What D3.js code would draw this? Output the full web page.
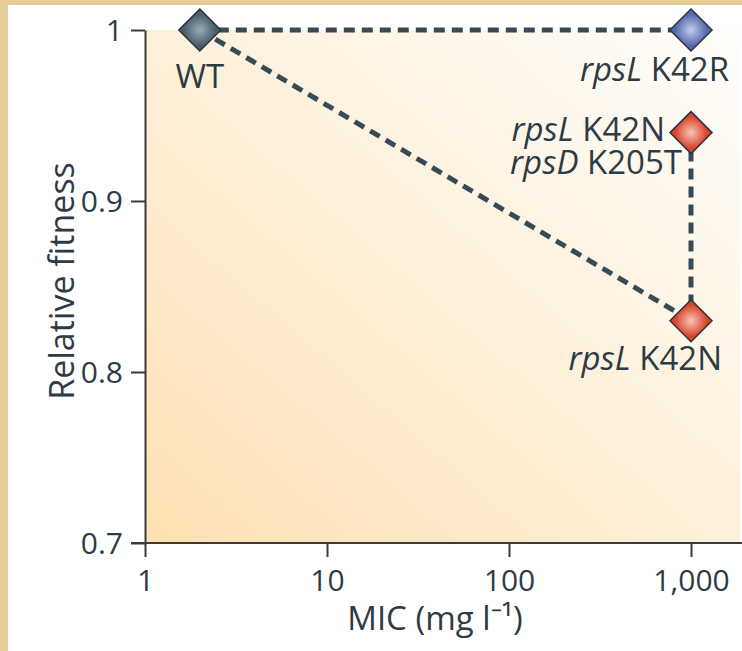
<!DOCTYPE html>
<html>
<head>
<meta charset="utf-8">
<title>Relative fitness vs MIC</title>
<script src="https://cdn.jsdelivr.net/npm/d3@7"></script>
<style>
  html, body { margin: 0; padding: 0; background: #e6cc96; }
  svg { display: block; }
  text { font-family: "Open Sans", sans-serif; fill: #2d3b45; }
</style>
</head>
<body>
<svg id="chart" width="742" height="651"></svg>
<script>

// data
var strains  = ["WT", "rpsL K42R", "rpsL K42N rpsD K205T", "rpsL K42N"]
var mic      = [2, 1000, 1000, 1000]
var fitness  = [1, 1, 0.94, 0.83]
var kind     = ["wt", "blue", "red", "red"]
var links    = [[0, 1], [0, 3], [2, 3]]

var xTicks      = [1, 10, 100, 1000]
var xTickLabels = ["1", "10", "100", "1,000"]
var yTicks      = [0.7, 0.8, 0.9, 1]
var yTickLabels = ["0.7", "0.8", "0.9", "1"]

// label lines for each strain: [italic gene, rest]
var labelLines = [
  [["", "WT"]],
  [["rpsL", " K42R"]],
  [["rpsL", " K42N"], ["rpsD", " K205T"]],
  [["rpsL", " K42N"]]
]

var W = 742, H = 651
var svg = d3.select('#chart')

var x = d3.scaleLog().domain([1, 1000]).range([145, 691])
var y = d3.scaleLinear().domain([0.7, 1]).range([543, 30])

var defs = svg.append('defs')

// plot background gradient
var bg = defs.append('linearGradient').attr('id', 'bg')
  .attr('x1', 0).attr('y1', 1).attr('x2', 1).attr('y2', 0)
bg.append('stop').attr('offset', 0).attr('stop-color', '#fde1b2')
bg.append('stop').attr('offset', 0.5).attr('stop-color', '#fdf0da')
bg.append('stop').attr('offset', 1).attr('stop-color', '#fffefc')

// diamond fills
var fills = {
  wt:   ['#9aabb4', '#4a5d68'],
  blue: ['#c3cdee', '#5669ab'],
  red:  ['#f9c6b6', '#d8442c']
}
Object.keys(fills).forEach(function(k){
  var g = defs.append('radialGradient').attr('id', 'd-' + k)
    .attr('cx', 0.5).attr('cy', 0.5).attr('r', 0.5)
  g.append('stop').attr('offset', 0).attr('stop-color', fills[k][0])
  g.append('stop').attr('offset', 0.75).attr('stop-color', fills[k][1])
})

// paper panel
svg.append('rect').attr('x', 8).attr('y', 5).attr('width', W - 8).attr('height', H - 5)
  .attr('fill', '#ffffff')

// plot area
svg.append('rect')
  .attr('x', x(1)).attr('y', y(1))
  .attr('width', W - 2 - x(1)).attr('height', y(0.7) - y(1))
  .attr('fill', 'url(#bg)')

// axes
var yAxis = d3.axisLeft(y).tickValues(yTicks)
  .tickFormat(function(d, i){ return yTickLabels[i] })
  .tickSize(14).tickSizeOuter(0).tickPadding(8)
var xAxis = d3.axisBottom(x).tickValues(xTicks)
  .tickFormat(function(d, i){ return xTickLabels[i] })
  .tickSize(14).tickSizeOuter(0).tickPadding(8)

var gy = svg.append('g').attr('transform', 'translate(' + x(1) + ',0)').call(yAxis)
var gx = svg.append('g').attr('transform', 'translate(0,' + y(0.7) + ')').call(xAxis)
gx.select('.domain').remove()
gx.append('line').attr('x1', x(1) - 14).attr('x2', W).attr('stroke', '#3b3b3b').attr('stroke-width', 2)

;[gx, gy].forEach(function(g){
  g.select('.domain').attr('stroke', '#3b3b3b').attr('stroke-width', 2)
  g.selectAll('.tick line').attr('stroke', '#3b3b3b').attr('stroke-width', 2)
  g.selectAll('.tick text').attr('font-size', 30).attr('font-family', '"Open Sans", sans-serif')
    .attr('fill', '#2d3b45')
})
gy.selectAll('.tick text').attr('dy', '0.36em')
gx.selectAll('.tick text').attr('dy', '0.85em')

// axis titles
svg.append('text')
  .attr('transform', 'translate(74,281) rotate(-90)')
  .attr('text-anchor', 'middle').attr('font-size', 34)
  .text('Relative fitness')

svg.append('text').attr('x', 435).attr('y', 630)
  .attr('text-anchor', 'middle').attr('font-size', 33)
  .text('MIC (mg l\u207B\u00B9)')

// dashed links
svg.append('g').selectAll('line').data(links).enter().append('line')
  .attr('x1', function(d){ return x(mic[d[0]]) })
  .attr('y1', function(d){ return y(fitness[d[0]]) })
  .attr('x2', function(d){ return x(mic[d[1]]) })
  .attr('y2', function(d){ return y(fitness[d[1]]) })
  .attr('stroke', '#374a55').attr('stroke-width', 5)
  .attr('stroke-dasharray', '11,7')

// diamonds
var r = 21
svg.append('g').selectAll('path').data(strains).enter().append('path')
  .attr('transform', function(d, i){ return 'translate(' + x(mic[i]) + ',' + y(fitness[i]) + ')' })
  .attr('d', 'M0,' + (-r) + 'L' + r + ',0L0,' + r + 'L' + (-r) + ',0Z')
  .attr('fill', function(d, i){ return 'url(#d-' + kind[i] + ')' })
  .attr('stroke', '#2a343b').attr('stroke-width', 1.5)

// labels: position relative to each point
var labelPos = [
  { dx: 0,   dy: 58, anchor: 'middle' },
  { dx: 38,  dy: 51, anchor: 'end' },
  { dx: -26, dy: 8,  anchor: 'end' },
  { dx: 31,  dy: 49, anchor: 'end' }
]
var lg = svg.append('g')
strains.forEach(function(s, i){
  var p = labelPos[i]
  labelLines[i].forEach(function(line, j){
    var dxl = (j === 1) ? 17 : 0
    var t = lg.append('text')
      .attr('x', x(mic[i]) + p.dx + dxl)
      .attr('y', y(fitness[i]) + p.dy + j * 33)
      .attr('text-anchor', p.anchor).attr('font-size', 33)
    if (line[0]) t.append('tspan').attr('font-style', 'italic').text(line[0])
    t.append('tspan').text(line[1])
  })
})

</script>
</body>
</html>
